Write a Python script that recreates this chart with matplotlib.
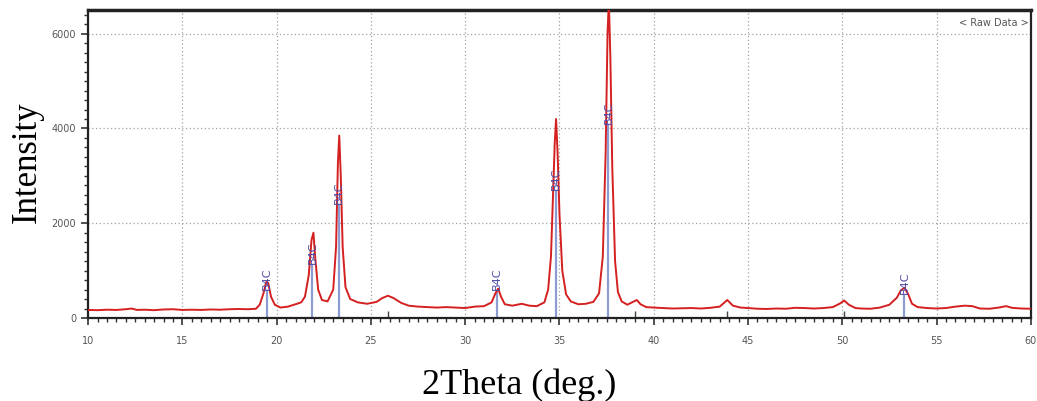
import matplotlib.pyplot as plt
from matplotlib.ticker import MultipleLocator

### DATA ###
two_theta = [10.0, 10.5, 11.0, 11.5, 12.0, 12.3, 12.6, 13.0, 13.5, 14.0, 14.5, 15.0, 15.5, 16.0,
             16.5, 17.0, 17.5, 18.0, 18.5, 18.9, 19.1, 19.3, 19.45, 19.55, 19.7, 19.9, 20.2, 20.6,
             21.0, 21.3, 21.5, 21.7, 21.85, 21.95, 22.05, 22.2, 22.4, 22.7, 23.0, 23.15, 23.25,
             23.32, 23.4, 23.5, 23.65, 23.9, 24.3, 24.8, 25.3, 25.6, 25.9, 26.2, 26.6, 27.0, 27.5,
             28.0, 28.5, 29.0, 29.5, 30.0, 30.5, 31.0, 31.4, 31.6, 31.75, 31.9, 32.1, 32.5, 33.0,
             33.4, 33.8, 34.2, 34.4, 34.55, 34.65, 34.75, 34.82, 34.9, 35.0, 35.15, 35.35, 35.6,
             36.0, 36.4, 36.8, 37.1, 37.3, 37.45, 37.55, 37.62, 37.7, 37.8, 37.95, 38.1, 38.3,
             38.6, 38.9, 39.1, 39.3, 39.6, 40.0, 40.5, 41.0, 41.5, 42.0, 42.5, 43.0, 43.5, 43.9,
             44.2, 44.6, 45.0, 45.5, 46.0, 46.5, 47.0, 47.5, 48.0, 48.5, 49.0, 49.5, 49.9, 50.1,
             50.35, 50.7, 51.0, 51.5, 52.0, 52.5, 52.9, 53.1, 53.3, 53.5, 53.7, 54.0, 54.5, 55.0,
             55.5, 56.0, 56.5, 56.9, 57.3, 57.8, 58.3, 58.7, 59.0, 59.5, 60.0]
intensity = [170, 165, 175, 170, 185, 200, 170, 175, 165, 180, 185, 170, 175, 170,
             180, 175, 185, 190, 185, 195, 280, 520, 760, 740, 450, 280, 220, 240,
             290, 330, 450, 900, 1650, 1800, 1250, 600, 380, 350, 600, 1500, 3300,
             3850, 3000, 1500, 650, 400, 330, 300, 340, 420, 470, 420, 320, 260, 240,
             230, 220, 230, 220, 210, 240, 250, 330, 520, 620, 450, 290, 260, 300,
             260, 250, 330, 600, 1300, 2500, 3700, 4200, 3500, 2200, 1000, 500, 350,
             290, 300, 340, 520, 1300, 3500, 6000, 6700, 5500, 3200, 1200, 550, 350,
             280, 340, 380, 290, 230, 220, 210, 200, 205, 210, 200, 215, 240, 380,
             260, 220, 210, 195, 190, 200, 195, 215, 210, 200, 210, 230, 310, 370,
             280, 210, 200, 195, 220, 280, 430, 580, 640, 500, 300, 230, 210, 200,
             210, 240, 260, 250, 200, 195, 220, 250, 215, 200, 195]

# B4C reference peaks (position, stick height)
b4c_pos = [19.5, 21.9, 23.3, 31.7, 34.8, 37.6, 53.3]
b4c_height = [600, 1150, 2400, 600, 2700, 4100, 500]
# other short reference sticks
other_pos = [25.9, 39.0, 43.9, 50.1]
other_height = [150, 150, 150, 150]

### PLOT ###
fig = plt.figure(figsize=(10.37, 4.01), dpi=100)
ax = fig.add_axes([0.085, 0.207, 0.909, 0.768])

ax.vlines(b4c_pos, 0, b4c_height, color='#8c9bd2', lw=1.6, zorder=2)
ax.vlines(other_pos, 0, other_height, color='#444444', lw=1.0, zorder=2)
ax.plot(two_theta, intensity, color='#d42020', lw=1.4, zorder=3)

for p, h in zip(b4c_pos, b4c_height):
    ax.text(p, h, 'B4C', rotation=90, ha='center', va='bottom', fontsize=8,
            color='#4a4aa8', zorder=4)

ax.set_xlim(10, 60)
ax.set_ylim(0, 6500)
ax.xaxis.set_major_locator(MultipleLocator(5))
ax.xaxis.set_minor_locator(MultipleLocator(0.5))
ax.yaxis.set_major_locator(MultipleLocator(2000))
ax.yaxis.set_minor_locator(MultipleLocator(200))
ax.grid(True, which='major', color='#a0a0a0', ls=(0, (1, 2)), lw=0.9)
ax.tick_params(which='major', direction='out', length=5, width=1.2, labelsize=7,
               labelcolor='#555555', color='#333333')
ax.tick_params(which='minor', direction='out', length=3, width=1.0, color='#333333')
ax.tick_params(axis='x', pad=8)
for s in ax.spines.values():
    s.set_linewidth(1.6)
    s.set_color('#222222')
ax.spines['top'].set_linewidth(2.5)

ax.text(0.998, 0.975, '< Raw Data >', transform=ax.transAxes, ha='right', va='top',
        fontsize=7, color='#555555')

fig.text(0.026, 0.596, 'Intensity', rotation=90, ha='center', va='center',
         fontsize=25, family='Liberation Serif')
fig.text(0.5005, 0.0175, '2Theta (deg.)', ha='center', va='baseline',
         fontsize=26, family='Liberation Serif')

fig.savefig('out.png', dpi=100)
